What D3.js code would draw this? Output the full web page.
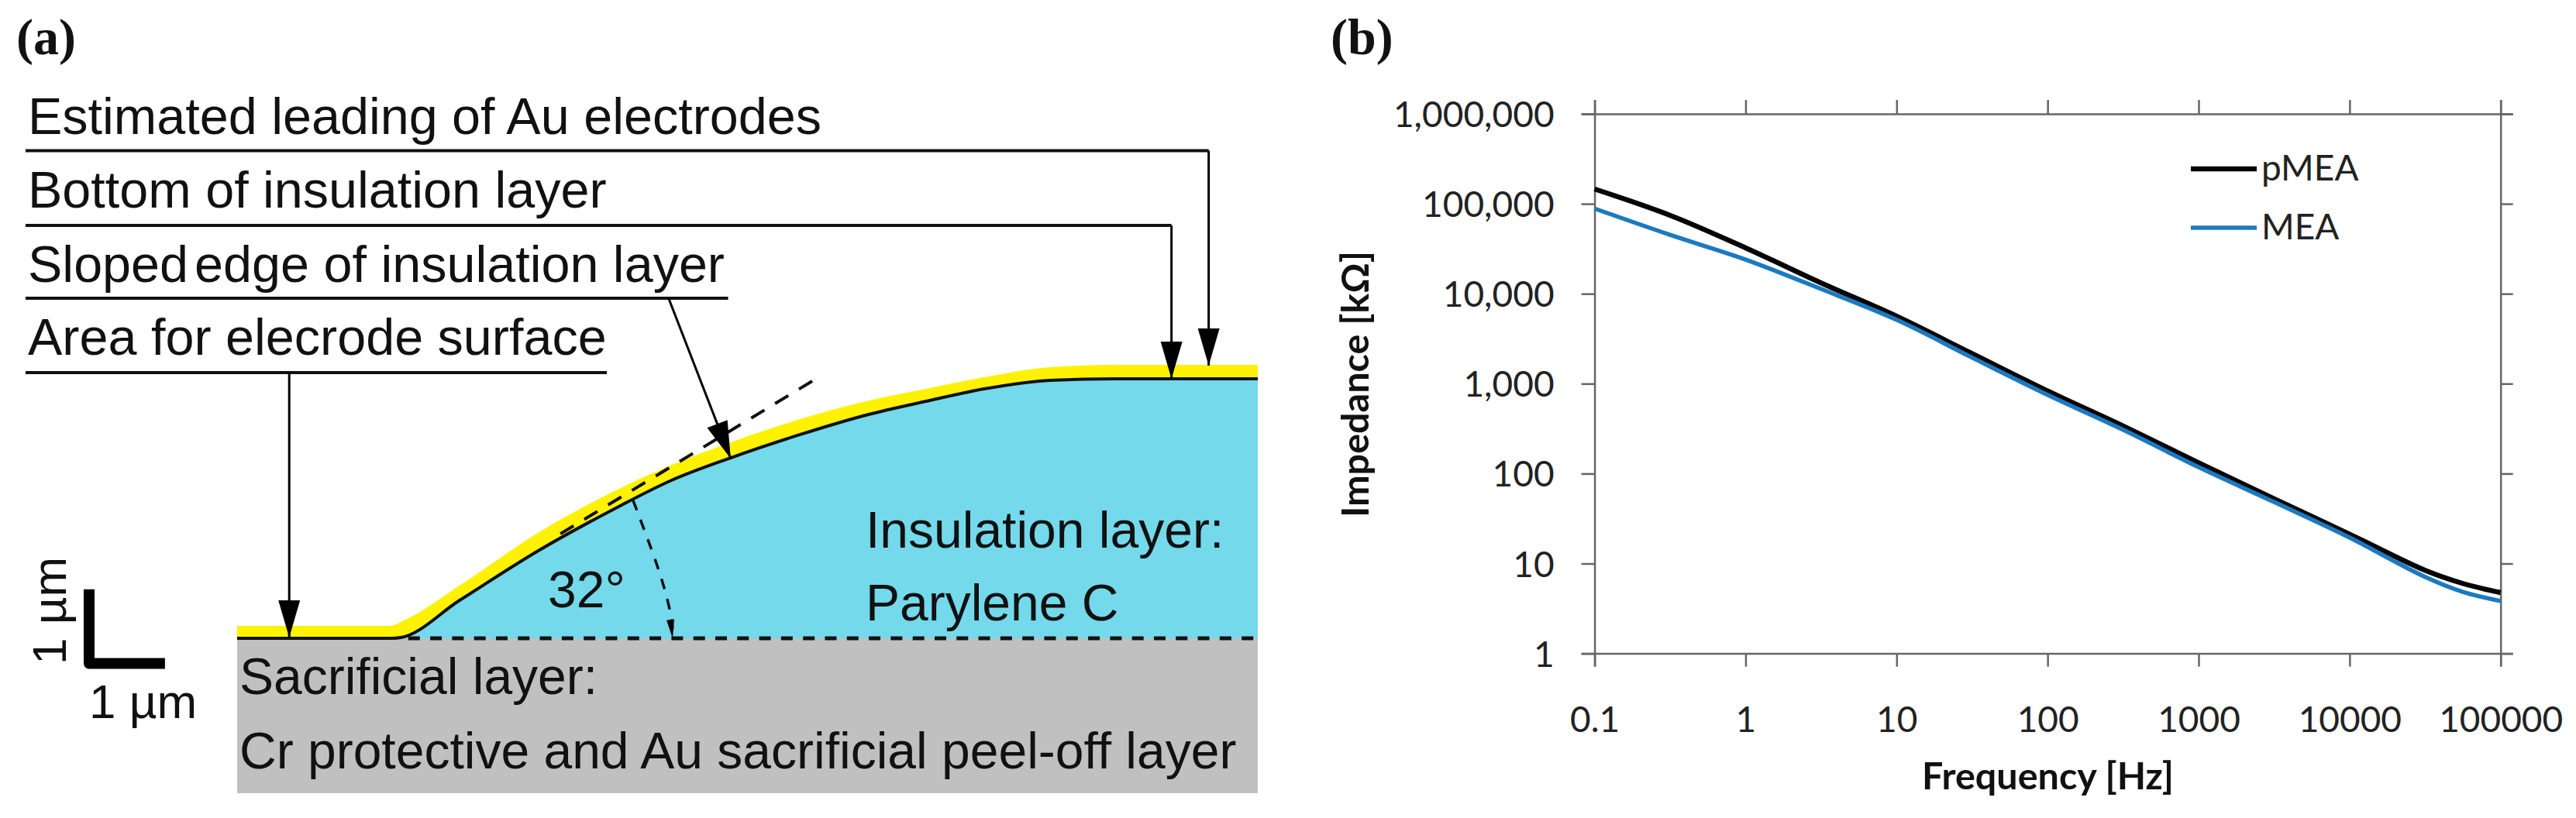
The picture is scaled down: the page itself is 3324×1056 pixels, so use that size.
<!DOCTYPE html>
<html>
<head>
<meta charset="utf-8">
<script src="https://cdn.jsdelivr.net/npm/d3@7"></script>
<style>
  html, body { margin: 0; padding: 0; background: #fff; }
  .sketch-text { font-family: "Liberation Sans", Arial, sans-serif; font-size: 66px; fill: #111; }
  .panel-tag { font-family: "Liberation Serif", serif; font-weight: bold; font-size: 66px; fill: #111; }
  .plot-text { font-family: Lato, sans-serif; font-size: 46px; fill: #222; }
  .plot-title { font-family: Lato, sans-serif; font-weight: bold; font-size: 48.5px; fill: #111; }
  .axis path, .axis line { stroke: #666; stroke-width: 2.5; }
  .axis text { font-family: Lato, sans-serif; font-size: 46px; fill: #222; }
</style>
</head>
<body>
<svg id="fig" width="3324" height="1056"></svg>
<script>
// panel (b): impedance spectra
let frequencies = [0.1, 0.316, 1, 3.16, 10, 31.6, 100, 316, 1000, 3162, 10000, 31623, 56234, 100000];
let pmeaValues = [146000, 74500, 32400, 13200, 5620, 2160, 830, 339, 132, 52.5, 21.2, 8.4, 6.0, 4.75];
let meaValues = [88500, 45200, 24000, 11300, 5130, 1950, 750, 307, 118, 48.3, 19.4, 7.1, 4.84, 3.83];
let freqTicks = [0.1, 1, 10, 100, 1000, 10000, 100000];
let impedanceTicks = [1, 10, 100, 1000, 10000, 100000, 1000000];
let legendLabels = ['pMEA', 'MEA'];

// panel (a): cross section, all in micrometres from the left end of the substrate
let bottomEdge = [[0, 0], [2.083, 0], [2.198, 0.01], [2.99, 0.51], [4.03, 1.167], [5.07, 1.74], [5.84, 2.125], [6.635, 2.427],
  [7.57, 2.74], [8.45, 3.0], [9.31, 3.198], [10.04, 3.354], [10.93, 3.47], [11.81, 3.49], [13.72, 3.49]];
let topEdge = [[0, 0.167], [2.05, 0.167], [2.26, 0.25], [2.99, 0.71], [4.03, 1.41], [5.07, 1.98], [5.84, 2.33], [6.635, 2.635],
  [7.57, 2.948], [8.45, 3.187], [9.31, 3.365], [10.04, 3.51], [10.93, 3.646], [11.81, 3.677], [13.72, 3.677]];
let tangentLine = [[7.73, 3.458], [4.28, 1.365]];
let angleArc = [[5.32, 1.86], [5.635, 1.01], [5.80, 0.45], [5.854, 0.12]];
let calloutLabels = ['Estimated leading of Au electrodes', 'Bottom of insulation layer', 'Sloped edge of insulation layer', 'Area for elecrode surface'];
let calloutRules = [[6.556, 13.06], [5.552, 12.56], [4.573, 6.60], [3.573, 4.97]];
let calloutArrows = [
  [[13.06, 6.556], [13.06, 3.667]],
  [[12.56, 5.552], [12.56, 3.49]],
  [[5.80, 4.573], [6.635, 2.417]],
  [[0.70, 3.573], [0.70, 0.01]]
];
let scaleBar = [[-1.99, 0.66], [-1.99, -0.339], [-0.97, -0.339]];

let svg = d3.select('#fig');

// ---- panel a ----
let xUm = d3.scaleLinear().domain([0, 13.72]).range([306, 1623]);
let yUm = d3.scaleLinear().domain([0, 1]).range([824, 728]);
let umLine = d3.line().x(d => xUm(d[0])).y(d => yUm(d[1]));
let edgeLine = d3.line().x(d => xUm(d[0])).y(d => yUm(d[1])).curve(d3.curveMonotoneX);
let underEdge = d3.area().x(d => xUm(d[0])).y0(yUm(0)).y1(d => yUm(d[1])).curve(d3.curveMonotoneX);

let panelA = svg.append('g');

panelA.append('rect')
  .attr('x', xUm(0)).attr('y', yUm(0))
  .attr('width', xUm(13.72) - xUm(0)).attr('height', 200)
  .attr('fill', '#c0c0c0');

panelA.append('path').attr('d', underEdge(topEdge)).attr('fill', '#fff200');
panelA.append('path').attr('d', underEdge(bottomEdge)).attr('fill', '#74d9eb');
panelA.append('path').attr('d', edgeLine(bottomEdge)).attr('fill', 'none').attr('stroke', '#111').attr('stroke-width', 4);

panelA.append('path')
  .attr('d', umLine([[2.3, 0], [13.72, 0]]))
  .attr('fill', 'none').attr('stroke', '#111').attr('stroke-width', 5).attr('stroke-dasharray', '15 13.3');

panelA.append('path')
  .attr('d', umLine(tangentLine))
  .attr('fill', 'none').attr('stroke', '#111').attr('stroke-width', 4).attr('stroke-dasharray', '20 16');

panelA.append('path')
  .attr('d', d3.line().x(d => xUm(d[0])).y(d => yUm(d[1])).curve(d3.curveNatural)(angleArc))
  .attr('fill', 'none').attr('stroke', '#111').attr('stroke-width', 3.5).attr('stroke-dasharray', '14 13');

let drawHead = function (from, to, headLen, headHalf) {
  let x0 = xUm(from[0]), y0 = yUm(from[1]), x1 = xUm(to[0]), y1 = yUm(to[1]);
  let len = Math.hypot(x1 - x0, y1 - y0), ux = (x1 - x0) / len, uy = (y1 - y0) / len;
  let bx = x1 - ux * headLen, by = y1 - uy * headLen;
  panelA.append('polygon')
    .attr('points', [[x1, y1], [bx - uy * headHalf, by + ux * headHalf], [bx + uy * headHalf, by - ux * headHalf]].join(' '))
    .attr('fill', '#000');
};
drawHead(angleArc[2], [5.854, 0], 24, 5);

calloutRules.forEach(function (r) {
  panelA.append('path')
    .attr('d', umLine([[-2.844, r[0]], [r[1], r[0]]]))
    .attr('stroke', '#111').attr('stroke-width', 4);
});
calloutArrows.forEach(function (a) {
  panelA.append('path').attr('d', umLine(a)).attr('stroke', '#000').attr('stroke-width', 3);
  drawHead(a[0], a[1], 48, 14);
});

panelA.append('path')
  .attr('d', umLine(scaleBar))
  .attr('fill', 'none').attr('stroke', '#000').attr('stroke-width', 14).attr('stroke-linejoin', 'round');

let sketchText = function (str, x, y, rotate) {
  let t = panelA.append('text').attr('class', 'sketch-text').text(str);
  if (rotate) t.attr('transform', 'translate(' + x + ',' + y + ') rotate(-90)');
  else t.attr('x', x).attr('y', y);
  return t;
};
[173, 268, 363.5, 458].forEach(function (y, i) {
  let t = sketchText(calloutLabels[i], 36, y).style('font-size', '66.5px');
  // the original has almost no gap after "Sloped"
  if (i === 2) t.text('Sloped').append('tspan').attr('dx', 8).text('edge of insulation layer');
});
sketchText('Insulation layer:', 1117, 707);
sketchText('Parylene C', 1117, 801);
sketchText('32°', 707, 784);
sketchText('Sacrificial layer:', 309, 896);
sketchText('Cr protective and Au sacrificial peel-off layer', 309, 992);
sketchText('1 µm', 115, 927).style('font-size', '62px');
sketchText('1 µm', 85, 858, true).style('font-size', '62px');

svg.append('text').attr('class', 'panel-tag').attr('x', 21).attr('y', 70).text('(a)');
svg.append('text').attr('class', 'panel-tag').attr('x', 1717).attr('y', 70).text('(b)');

// ---- panel b ----
let x = d3.scaleLog().domain([0.1, 100000]).range([2057.6, 3226.7]);
let y = d3.scaleLog().domain([1, 1000000]).range([843.6, 147]);
let panelB = svg.append('g');

let xAxis = d3.axisBottom(x).tickValues(freqTicks).tickFormat(d => String(d)).tickSize(17);
let xAxisTop = d3.axisTop(x).tickValues(freqTicks).tickFormat('').tickSize(18);
let yAxis = d3.axisLeft(y).tickValues(impedanceTicks).tickFormat(d3.format(',')).tickSize(17);
let yAxisRight = d3.axisRight(y).tickValues(impedanceTicks).tickFormat('').tickSize(16);

panelB.append('g').attr('class', 'axis').attr('transform', 'translate(0,' + y(1) + ')').call(xAxis)
  .call(g => g.selectAll('text').attr('y', 101).attr('dy', 0));
panelB.append('g').attr('class', 'axis').attr('transform', 'translate(0,' + y(1000000) + ')').call(xAxisTop);
panelB.append('g').attr('class', 'axis').attr('transform', 'translate(' + x(0.1) + ',0)').call(yAxis)
  .call(g => g.selectAll('text').attr('x', -52).attr('dy', '0.36em'));
panelB.append('g').attr('class', 'axis').attr('transform', 'translate(' + x(100000) + ',0)').call(yAxisRight);
panelB.selectAll('.axis').attr('font-family', null).attr('font-size', null);

let seriesLine = d3.line()
  .x((d, i) => x(frequencies[i]))
  .y(d => y(d))
  .curve(d3.curveCatmullRom);

panelB.append('path').attr('d', seriesLine(pmeaValues)).attr('fill', 'none').attr('stroke', '#050505').attr('stroke-width', 6.5);
panelB.append('path').attr('d', seriesLine(meaValues)).attr('fill', 'none').attr('stroke', '#1b7ac0').attr('stroke-width', 5.5);

[['#050505', 6.5, 218, 233], ['#1b7ac0', 5.5, 294, 309]].forEach(function (l, i) {
  panelB.append('line')
    .attr('x1', 2827).attr('x2', 2912).attr('y1', l[2]).attr('y2', l[2])
    .attr('stroke', l[0]).attr('stroke-width', l[1]);
  panelB.append('text').attr('class', 'plot-text').attr('x', 2918).attr('y', l[3]).text(legendLabels[i]);
});

panelB.append('text').attr('class', 'plot-title').attr('x', 2642.5).attr('y', 1019).attr('text-anchor', 'middle').text('Frequency [Hz]');
panelB.append('text').attr('class', 'plot-title').attr('text-anchor', 'middle')
  .attr('transform', 'translate(1766,496) rotate(-90)').text('Impedance [kΩ]');
</script>
</body>
</html>
